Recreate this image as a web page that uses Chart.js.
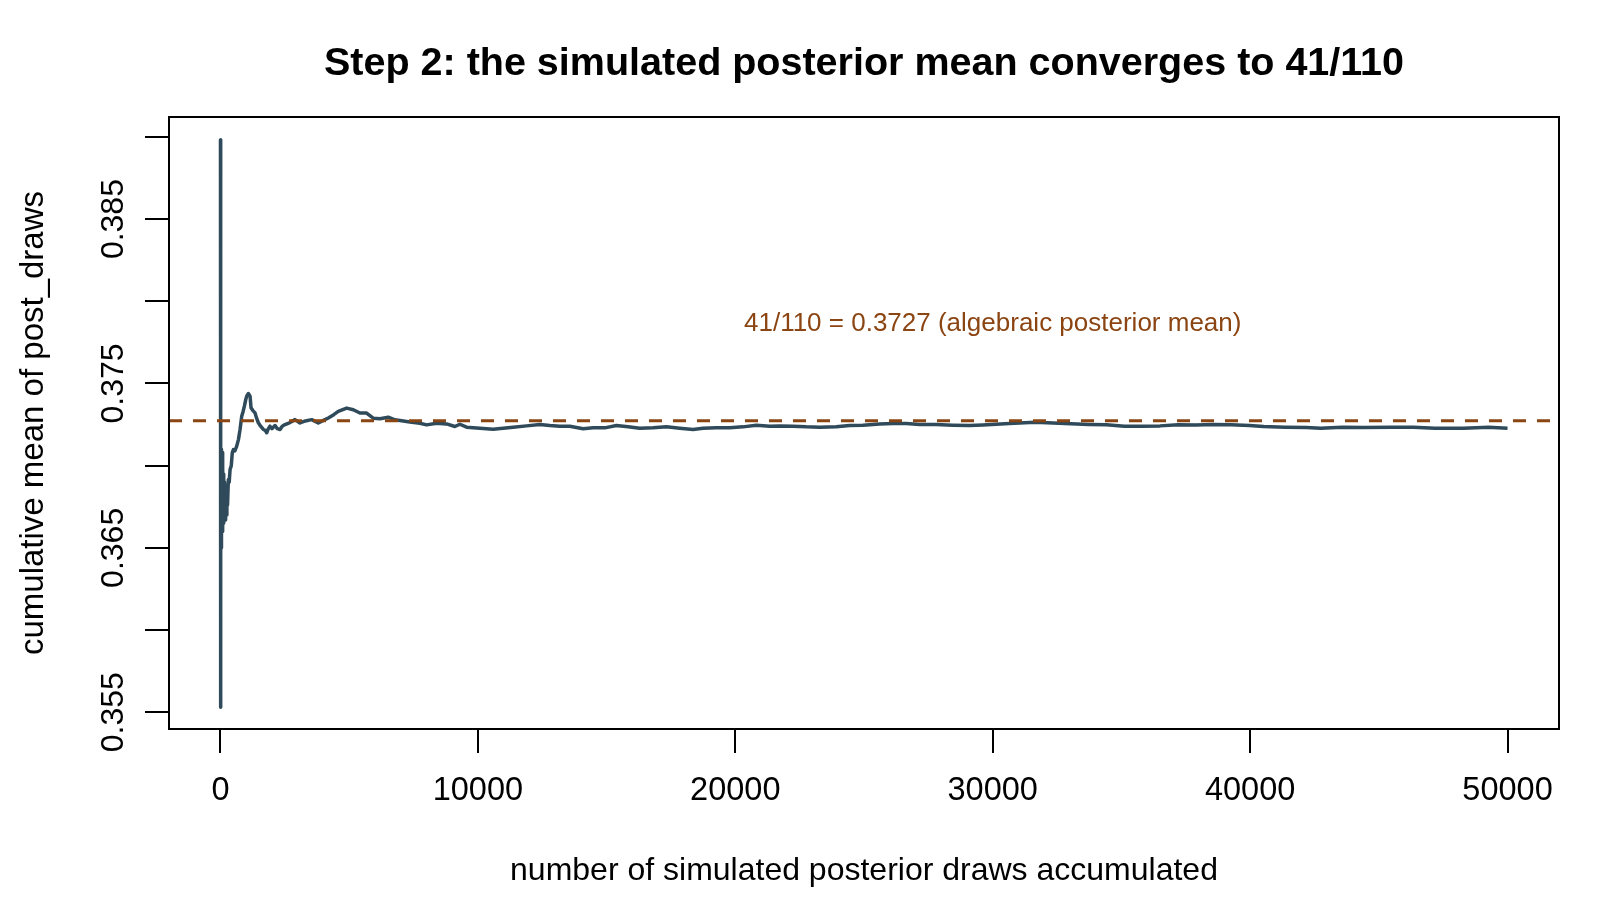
<!DOCTYPE html>
<html>
<head>
<meta charset="utf-8">
<title>Step 2: posterior mean convergence</title>
<script src="https://cdn.jsdelivr.net/npm/chart.js@4"></script>
<style>
  html, body { margin: 0; padding: 0; background: #fff; }
  #wrap { width: 1600px; height: 900px; }
</style>
</head>
<body>
<div id="wrap"><canvas id="chart" width="1600" height="900"></canvas></div>
<script>
// ===== DATA =====
// number of draws accumulated (x) and the running mean (y)
const drawsN = [
  1, 2, 3, 4, 5, 6, 7, 8, 10, 12, 15, 18, 22, 26, 30, 35, 40, 48, 56, 65,
  75, 85, 95, 110, 125, 140, 160, 180, 200, 225, 250, 275, 307, 340, 373, 420,
  460, 502, 560, 632, 700, 761, 826, 880, 929, 980, 1020, 1084, 1150, 1188,
  1260, 1343, 1400, 1472, 1560, 1667, 1740, 1797, 1860, 1925, 2000, 2120,
  2210, 2314, 2400, 2508, 2700, 2896, 3090, 3300, 3544, 3800, 4000, 4190,
  4400, 4577, 4902, 5160, 5419, 5678, 5935, 6196, 6518, 6778, 7038, 7360,
  7748, 8009, 8397, 8785, 9107, 9301, 9561, 10078, 10594, 10982, 11370,
  11891, 12407, 12795, 13183, 13571, 14088, 14476, 14930, 15384, 15835,
  16289, 16805, 17326, 17842, 18358, 18746, 19266, 19783, 20299, 20819,
  21335, 21723, 22240, 22760, 23276, 23924, 24441, 24957, 25605, 26122,
  26642, 27158, 27806, 28451, 29099, 29616, 30136, 30652, 31040, 31650,
  32345, 33036, 33731, 34418, 35116, 35812, 36502, 37197, 37888, 38583,
  39270, 39969, 40524, 41355, 42182, 42741, 43575, 44406, 45516, 46347,
  47178, 48288, 49259, 50000
];
const cumMean = [
  0.38983, 0.3553, 0.38151, 0.361, 0.3765, 0.3597, 0.373, 0.3644, 0.37, 0.363,
  0.369, 0.3644, 0.3705, 0.365, 0.3708, 0.366, 0.371, 0.3652, 0.3705, 0.366,
  0.3708, 0.367, 0.37, 0.3665, 0.3695, 0.3668, 0.369, 0.3667, 0.3687, 0.367,
  0.3688, 0.3676, 0.36916, 0.369, 0.36976, 0.37, 0.3708, 0.37098, 0.3709,
  0.37119, 0.3716, 0.3722, 0.37301, 0.3733, 0.37362, 0.374, 0.37423, 0.37439,
  0.37423, 0.37352, 0.37335, 0.37321, 0.3729, 0.37261, 0.3724, 0.3722,
  0.37215, 0.372, 0.37225, 0.3724, 0.37225, 0.37244, 0.37225, 0.3722, 0.3724,
  0.3725, 0.37262, 0.3728, 0.3726, 0.37272, 0.3728, 0.3726, 0.37275, 0.3729,
  0.3731, 0.3733, 0.3735, 0.3734, 0.3732, 0.3732, 0.37289, 0.37285, 0.37295,
  0.37279, 0.37273, 0.37265, 0.37258, 0.37248, 0.37258, 0.37254, 0.37238,
  0.37252, 0.37234, 0.37228, 0.37222, 0.37228, 0.37234, 0.37242, 0.3725,
  0.37244, 0.3724, 0.3724, 0.37224, 0.3723, 0.3723, 0.37244, 0.37236,
  0.37228, 0.3723, 0.37236, 0.37228, 0.3722, 0.37228, 0.3723, 0.3723,
  0.37236, 0.37246, 0.3724, 0.37242, 0.3724, 0.37236, 0.37234, 0.37236,
  0.37244, 0.37246, 0.37254, 0.37256, 0.37256, 0.3725, 0.3725, 0.37246,
  0.37244, 0.37248, 0.37252, 0.37256, 0.3726, 0.37264, 0.3726, 0.37255,
  0.37251, 0.37249, 0.3724, 0.3724, 0.37242, 0.37249, 0.37247, 0.37251,
  0.37249, 0.37245, 0.37238, 0.37234, 0.37232, 0.37227, 0.37234, 0.37232,
  0.37234, 0.37234, 0.37227, 0.37227, 0.37234, 0.37228
];
const refMean = 41 / 110;
const refLabel = "41/110 = 0.3727 (algebraic posterior mean)";
const refLabelX = 30000;
const refLabelY = 0.378727;

const xTicks = [0, 10000, 20000, 30000, 40000, 50000];
const yTicks = [0.355, 0.36, 0.365, 0.37, 0.375, 0.38, 0.385, 0.39];
const yTickLabels = ["0.355", "", "0.365", "", "0.375", "", "0.385", ""];

const titleText = "Step 2: the simulated posterior mean converges to 41/110";
const xTitle = "number of simulated posterior draws accumulated";
const yTitle = "cumulative mean of post_draws";

// axis limits (R style 4% extension)
const xMin = -1999, xMax = 51999;
const yMin = 0.35398, yMax = 0.39121;

const FONT = "'Liberation Sans', Arial, sans-serif";
const lineColor = "#2F4A5A";
const refColor = "#8B4513";

// ===== R-LIKE DECORATIONS =====
const rDecor = {
  id: "rDecor",
  afterDraw(chart) {
    const { ctx, chartArea: a, scales } = chart;
    const sx = scales.x, sy = scales.y;
    ctx.save();

    // box
    ctx.strokeStyle = "#000";
    ctx.lineWidth = 2;
    ctx.strokeRect(a.left, a.top, a.right - a.left, a.bottom - a.top);

    ctx.fillStyle = "#000";
    const cx = (a.left + a.right) / 2;

    // title
    ctx.font = "bold 39.5px " + FONT;
    ctx.textAlign = "center";
    ctx.textBaseline = "alphabetic";
    ctx.fillText(titleText, cx, 75);

    // x tick labels
    ctx.font = "32.5px " + FONT;
    xTicks.forEach((v) => {
      ctx.fillText(String(v), sx.getPixelForValue(v), 800);
    });

    // x title
    ctx.font = "32px " + FONT;
    ctx.fillText(xTitle, cx, 880);

    // y tick labels (rotated, like R's las = 0)
    ctx.font = "32px " + FONT;
    yTicks.forEach((v, i) => {
      if (!yTickLabels[i]) return;
      ctx.save();
      ctx.translate(123, sy.getPixelForValue(v));
      ctx.rotate(-Math.PI / 2);
      ctx.fillText(yTickLabels[i], 0, 0);
      ctx.restore();
    });

    // y title
    ctx.font = "33px " + FONT;
    ctx.save();
    ctx.translate(43, (a.top + a.bottom) / 2);
    ctx.rotate(-Math.PI / 2);
    ctx.fillText(yTitle, 0, 0);
    ctx.restore();

    // reference annotation
    ctx.fillStyle = refColor;
    ctx.font = "26px " + FONT;
    ctx.textBaseline = "middle";
    ctx.fillText(refLabel, sx.getPixelForValue(refLabelX), sy.getPixelForValue(refLabelY) + 2);

    ctx.restore();
  },
};

new Chart(document.getElementById("chart"), {
  type: "line",
  data: {
    datasets: [
      {
        label: "cumulative mean",
        data: drawsN.map((n, i) => ({ x: n, y: cumMean[i] })),
        borderColor: lineColor,
        borderWidth: 3.5,
        pointRadius: 0,
        tension: 0,
        borderJoinStyle: "round",
        order: 1,
      },
      {
        label: "41/110",
        data: [
          { x: xMin, y: refMean },
          { x: xMax, y: refMean },
        ],
        borderColor: refColor,
        borderWidth: 3,
        borderDash: [13, 11],
        pointRadius: 0,
        order: 0,
      },
    ],
  },
  options: {
    responsive: false,
    animation: false,
    layout: { padding: { top: 117, right: 41, bottom: 0, left: 0 } },
    plugins: {
      legend: { display: false },
      title: { display: false },
      tooltip: { enabled: false },
    },
    scales: {
      x: {
        type: "linear",
        min: xMin,
        max: xMax,
        afterBuildTicks: (s) => {
          s.ticks = xTicks.map((v) => ({ value: v }));
        },
        afterFit: (s) => {
          s.height = 171;
        },
        ticks: { display: false },
        grid: {
          drawOnChartArea: false,
          drawTicks: true,
          tickLength: 24,
          color: "#000",
          lineWidth: 2,
        },
        border: { display: false },
      },
      y: {
        type: "linear",
        min: yMin,
        max: yMax,
        afterBuildTicks: (s) => {
          s.ticks = yTicks.map((v) => ({ value: v }));
        },
        afterFit: (s) => {
          s.width = 169;
        },
        ticks: { display: false },
        grid: {
          drawOnChartArea: false,
          drawTicks: true,
          tickLength: 24,
          color: "#000",
          lineWidth: 2,
        },
        border: { display: false },
      },
    },
  },
  plugins: [rDecor],
});
</script>
</body>
</html>
